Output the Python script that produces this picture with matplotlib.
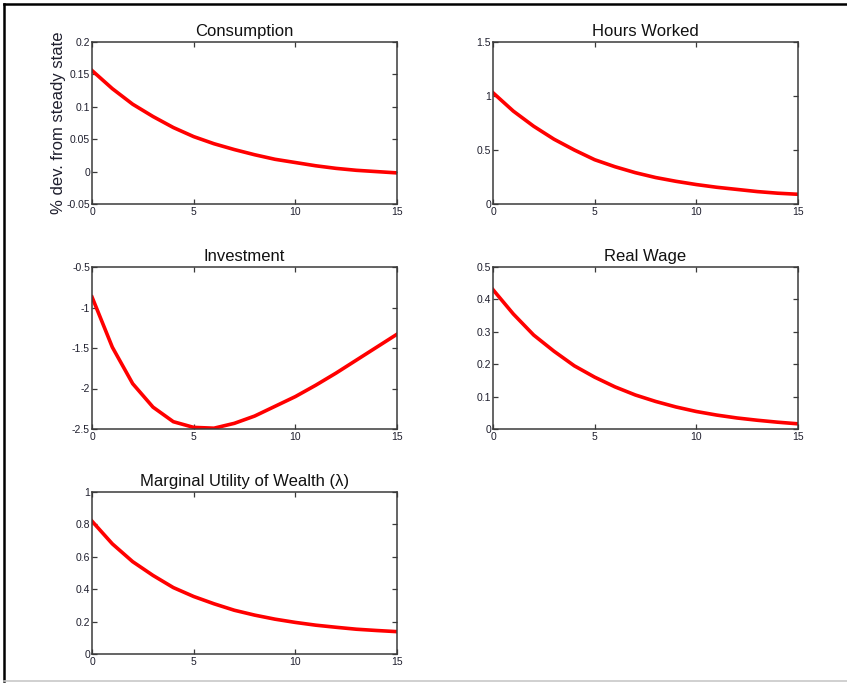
"""
Impulse responses (5 panels, MATLAB-style layout) redrawn with matplotlib.
"""
import matplotlib
matplotlib.use("Agg")
import matplotlib.pyplot as plt
from matplotlib.lines import Line2D

plt.rcParams["font.family"] = ["Liberation Sans", "DejaVu Sans"]

horizon = list(range(16))

consumption = [0.156, 0.128, 0.104, 0.085, 0.068, 0.054, 0.043, 0.034,
               0.026, 0.019, 0.014, 0.009, 0.005, 0.002, 0.000, -0.002]
hours = [1.03, 0.86, 0.72, 0.60, 0.50, 0.41, 0.345, 0.29,
         0.245, 0.21, 0.18, 0.155, 0.135, 0.115, 0.10, 0.09]
investment = [-0.87, -1.49, -1.94, -2.23, -2.41, -2.48, -2.49, -2.43,
              -2.34, -2.22, -2.10, -1.96, -1.81, -1.65, -1.49, -1.33]
real_wage = [0.43, 0.355, 0.29, 0.24, 0.195, 0.16, 0.13, 0.105,
             0.085, 0.068, 0.054, 0.043, 0.034, 0.027, 0.021, 0.016]
mu_wealth = [0.82, 0.68, 0.57, 0.485, 0.41, 0.355, 0.31, 0.27,
             0.24, 0.215, 0.195, 0.178, 0.165, 0.153, 0.145, 0.138]

titles = ["Consumption", "Hours Worked", "Investment", "Real Wage",
          "Marginal Utility of Wealth (\u03bb)"]
series = [consumption, hours, investment, real_wage, mu_wealth]
ylims = [(-0.05, 0.2), (0, 1.5), (-2.5, -0.5), (0, 0.5), (0, 1)]
yticks = [
    [-0.05, 0, 0.05, 0.1, 0.15, 0.2],
    [0, 0.5, 1, 1.5],
    [-2.5, -2, -1.5, -1, -0.5],
    [0, 0.1, 0.2, 0.3, 0.4, 0.5],
    [0, 0.2, 0.4, 0.6, 0.8, 1],
]
yticklabels = [
    ["-0.05", "0", "0.05", "0.1", "0.15", "0.2"],
    ["0", "0.5", "1", "1.5"],
    ["-2.5", "-2", "-1.5", "-1", "-0.5"],
    ["0", "0.1", "0.2", "0.3", "0.4", "0.5"],
    ["0", "0.2", "0.4", "0.6", "0.8", "1"],
]
xticks = [0, 5, 10, 15]

W, H = 847, 684
# panel boxes in pixels: left, top, right, bottom
boxes = [(92, 42, 397, 204), (493, 42, 798, 204),
         (92, 267, 397, 429), (493, 267, 798, 429),
         (92, 492, 397, 654)]

fig = plt.figure(figsize=(W / 100, H / 100), dpi=100)
fig.patch.set_facecolor("white")

frame_col = "#3a3a3a"
text_col = "#1f1f2e"

for i, (l, t, r, b) in enumerate(boxes):
    ax = fig.add_axes([l / W, 1 - b / H, (r - l) / W, (b - t) / H])
    ax.plot(horizon, series[i], color="#ff0000", lw=2.6, solid_joinstyle="round")
    ax.set_xlim(0, 15)
    ax.set_ylim(*ylims[i])
    ax.set_xticks(xticks)
    ax.set_xticklabels([str(x) for x in xticks])
    ax.set_yticks(yticks[i])
    ax.set_yticklabels(yticklabels[i])
    ax.tick_params(direction="in", length=3.5, width=0.9, colors=frame_col,
                   labelcolor=text_col, labelsize=7.5, top=True, right=True, pad=1.5)
    ax.tick_params(axis="x", pad=2.5)
    for s in ax.spines.values():
        s.set_color(frame_col)
        s.set_linewidth(1.1)
    ax.set_title(titles[i], fontsize=12, color="#111111", pad=4)
    if i == 0:
        ax.set_ylabel("% dev. from steady state", fontsize=12, color=text_col, labelpad=0)

# outer page frame
fig.add_artist(Line2D([3.5 / W, 1], [1 - 3.5 / H, 1 - 3.5 / H],
                      transform=fig.transFigure, color="black", lw=1.8))
fig.add_artist(Line2D([3.5 / W, 3.5 / W], [1 - 3.5 / H, 1 - 681 / H],
                      transform=fig.transFigure, color="black", lw=1.8))
fig.add_artist(Line2D([3.5 / W, 1], [1 - 681 / H, 1 - 681 / H],
                      transform=fig.transFigure, color="#c8c8c8", lw=1.2))

fig.savefig("out.png", dpi=100)
